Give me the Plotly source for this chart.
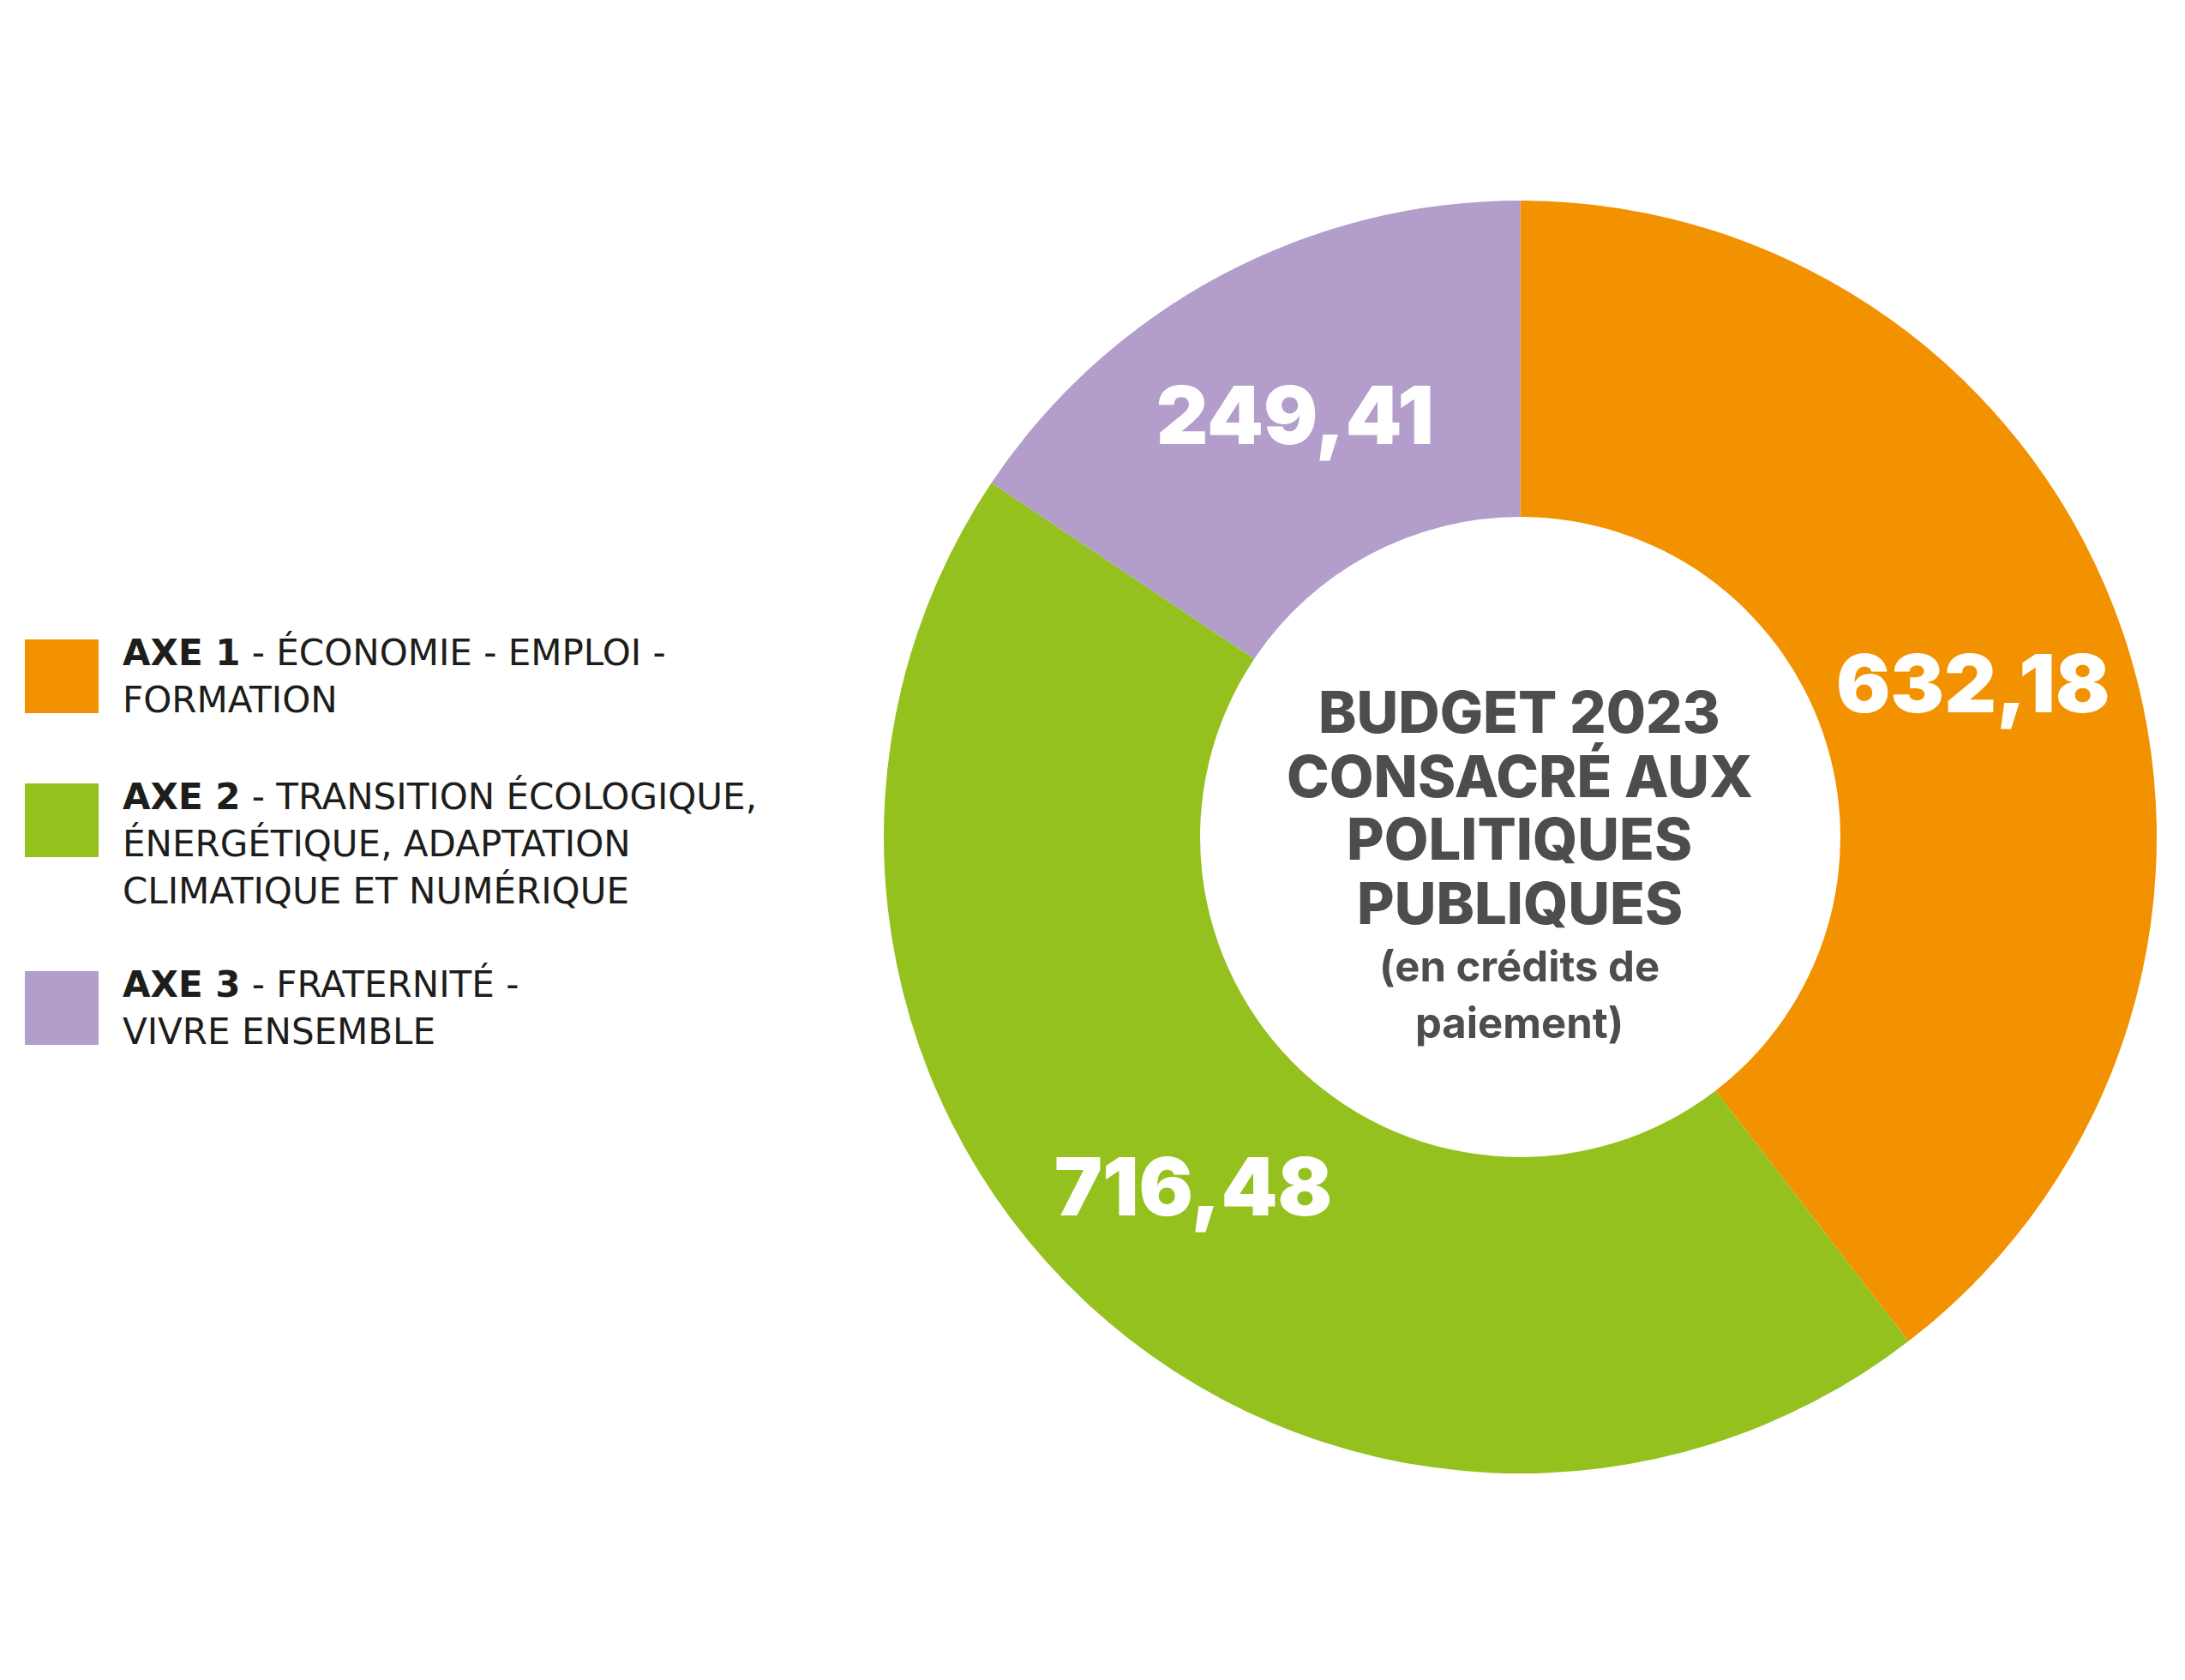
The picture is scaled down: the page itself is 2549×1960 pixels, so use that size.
import plotly.graph_objects as go

W, H = 2549, 1960

# ---- data ----
axes_bold = ["AXE 1", "AXE 2", "AXE 3"]
axes_desc = [
    ["- ÉCONOMIE - EMPLOI -", "FORMATION"],
    ["- TRANSITION ÉCOLOGIQUE,", "ÉNERGÉTIQUE, ADAPTATION", "CLIMATIQUE ET NUMÉRIQUE"],
    ["- FRATERNITÉ -", "VIVRE ENSEMBLE"],
]
values = [632.18, 716.48, 249.41]
colors = ["#F39200", "#95C11F", "#B29DCB"]
center_title = ["BUDGET 2023", "CONSACRÉ AUX", "POLITIQUES", "PUBLIQUES"]
center_sub = ["(en crédits de", "paiement)"]

value_text = [f"{v:.2f}".replace(".", ",") for v in values]

def px(x):
    return x / W

def py(y):
    return 1 - y / H

fig = go.Figure()
fig.add_trace(go.Pie(
    values=values,
    labels=axes_bold,
    text=value_text,
    textinfo="text",
    textposition="inside",
    insidetextorientation="horizontal",
    insidetextfont=dict(family="Inter", size=94, color="white", weight=900),
    marker=dict(colors=colors, line=dict(width=0)),
    hole=0.503,
    sort=False,
    direction="clockwise",
    rotation=0,
    showlegend=False,
    hoverinfo="skip",
    domain=dict(x=[px(1030), px(2517)], y=[py(1719), py(234)]),
))

annotations = []
# center title
cx = 1773
title_y = [831, 905, 979, 1053]
for t, yy in zip(center_title, title_y):
    annotations.append(dict(x=px(cx), y=py(yy), xref="paper", yref="paper", text=t,
                            showarrow=False, xanchor="center", yanchor="middle",
                            font=dict(family="Inter", size=67, color="#4D4D4D", weight=800)))
sub_y = [1127, 1193]
for t, yy in zip(center_sub, sub_y):
    annotations.append(dict(x=px(cx), y=py(yy), xref="paper", yref="paper", text=t,
                            showarrow=False, xanchor="center", yanchor="middle",
                            font=dict(family="Inter", size=49, color="#4D4D4D", weight=700)))

# legend
shapes = []
sq_top = [746, 914, 1133]
sq_size = 86
text_x = 141
line_h = 55
for i in range(3):
    shapes.append(dict(type="rect", xref="paper", yref="paper",
                       x0=px(29), x1=px(29 + sq_size), y0=py(sq_top[i] + sq_size), y1=py(sq_top[i]),
                       fillcolor=colors[i], line=dict(width=0)))
    first_y = sq_top[i] + 15
    for j, line in enumerate(axes_desc[i]):
        txt = (f"<b>{axes_bold[i]}</b> " + line) if j == 0 else line
        annotations.append(dict(x=px(text_x), y=py(first_y + j * line_h), xref="paper", yref="paper",
                                text=txt, showarrow=False, xanchor="left", yanchor="middle",
                                font=dict(family="DejaVu Sans", size=42, color="#1D1D1B")))

fig.update_layout(
    width=W, height=H,
    margin=dict(l=0, r=0, t=0, b=0),
    paper_bgcolor="white", plot_bgcolor="white",
    annotations=annotations, shapes=shapes,
)
fig.write_html("out.html", config={"displayModeBar": False},
               post_script="document.body.style.margin='0';document.body.style.overflow='hidden';")
